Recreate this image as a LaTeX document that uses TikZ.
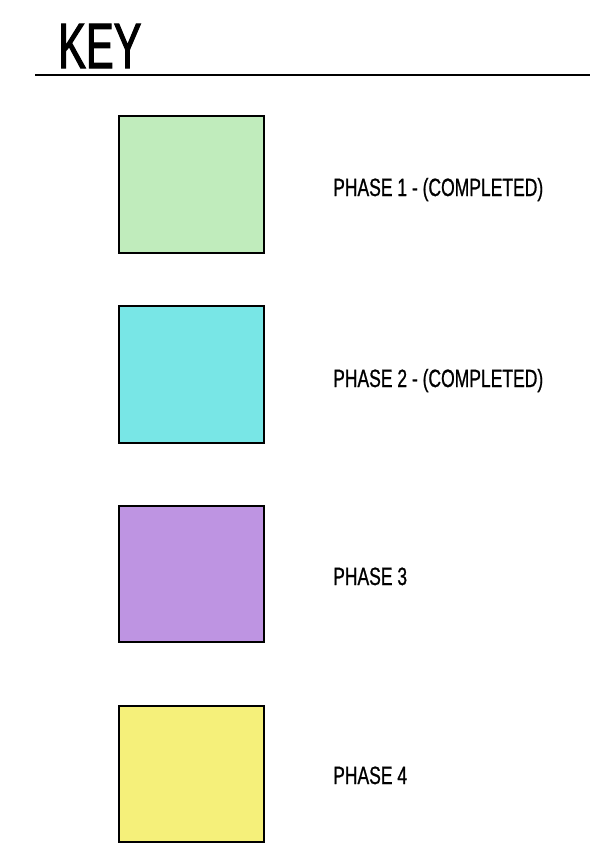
\documentclass[tikz,border=0pt]{standalone}
\usepackage{fontspec}
\setmainfont[FakeStretch=0.70]{Liberation Sans}
\newfontfamily\lblfont[FakeStretch=0.70,FakeBold=0.8]{Liberation Sans}
\newfontfamily\titlefont[FakeStretch=0.65,FakeBold=1.6]{Liberation Sans}
\definecolor{ph1}{RGB}{192,236,188}
\definecolor{ph2}{RGB}{120,230,230}
\definecolor{ph3}{RGB}{190,148,226}
\definecolor{ph4}{RGB}{245,240,122}
\begin{document}
\begin{tikzpicture}[x=1pt,y=-1pt,
  keybox/.style={draw=black,line width=2.4pt},
  lbl/.style={anchor=base west,inner sep=0pt,font=\lblfont\fontsize{25}{25}\selectfont},
]
\useasboundingbox (0,0) rectangle (590,855);
\node[anchor=base west,inner sep=0pt,font=\titlefont\fontsize{64}{64}\selectfont] (title) at (58,68) {KEY};
\coordinate (l1) at (35,75);
\coordinate (l2) at (590,75);
\draw[line width=1.5pt] (l1) -- (l2);
\draw[keybox,fill=ph1] (119,116) rectangle (264,253) node[midway] (b1) {};
\draw[keybox,fill=ph2] (119,306) rectangle (264,443) node[midway] (b2) {};
\draw[keybox,fill=ph3] (119,506) rectangle (264,642) node[midway] (b3) {};
\draw[keybox,fill=ph4] (119,706) rectangle (264,842) node[midway] (b4) {};
\node[lbl] (t1) at (333,196) {PHASE 1 - (COMPLETED)};
\node[lbl] (t2) at (333,387) {PHASE 2 - (COMPLETED)};
\node[lbl] (t3) at (333,585) {PHASE 3};
\node[lbl] (t4) at (333,784) {PHASE 4};
\end{tikzpicture}
\end{document}
